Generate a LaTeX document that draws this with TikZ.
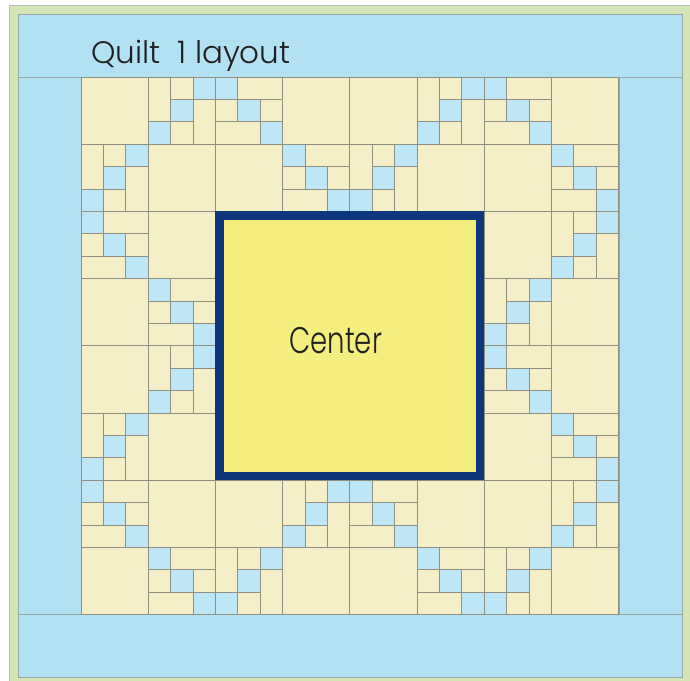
\documentclass[tikz,border=0pt]{standalone}
\usepackage{fontspec}
\newfontfamily\quiltfont{Poppins}[UprightFont=* Light]
\definecolor{edgegreen}{HTML}{D3E5B5}
\definecolor{borderblue}{HTML}{B2E1F4}
\definecolor{patchblue}{HTML}{BDE6F7}
\definecolor{patchyellow}{HTML}{F4EFC7}
\definecolor{centeryellow}{HTML}{F3EE7E}
\definecolor{centernavy}{HTML}{0D377A}
\definecolor{seamgray}{HTML}{8F8F82}

\begin{document}
\begin{tikzpicture}[
  x=1pt, y=-1pt,
  seam/.style={draw=seamgray, line width=0.7pt},
  pale/.style={seam, fill=patchyellow},
  bluepatch/.style={seam, fill=patchblue},
  strip/.style={fill=borderblue, draw=seamgray!70!borderblue, line width=0.7pt},
  quilttext/.style={inner sep=0pt, text=black!88},
  blocka/.pic={
    \draw[pale] (0,0) rectangle (1,2);
    \draw[pale] (1,0) rectangle (2,1);
    \draw[bluepatch] (2,0) rectangle (3,1);
    \draw[bluepatch] (1,1) rectangle (2,2);
    \draw[pale] (2,1) rectangle (3,3);
    \draw[bluepatch] (0,2) rectangle (1,3);
    \draw[pale] (1,2) rectangle (2,3);
  },
  blockb/.pic={
    \draw[bluepatch] (0,0) rectangle (1,1);
    \draw[pale] (1,0) rectangle (3,1);
    \draw[pale] (0,1) rectangle (1,2);
    \draw[bluepatch] (1,1) rectangle (2,2);
    \draw[pale] (2,1) rectangle (3,2);
    \draw[pale] (0,2) rectangle (2,3);
    \draw[bluepatch] (2,2) rectangle (3,3);
  }
]
\useasboundingbox (0,0) rectangle (690,680);

% outer binding and borders
\draw[fill=edgegreen, draw=seamgray!60, line width=0.7pt] (9,5) rectangle (700,690);
\draw[strip] (18,14) rectangle (682,77);
\draw[strip] (18,614) rectangle (682,677);
\draw[strip] (18,77) rectangle (81,614);
\draw[strip] (619,77) rectangle (682,614);

\begin{scope}[shift={(81,77)}, x=22.4pt, y=-22.4pt]
  % plain squares first, pieced blocks on top
  \foreach \c in {0,...,7}
    \foreach \r in {0,...,7}
      \draw[pale] (3*\c,3*\r) rectangle ++(3,3);
  \foreach \c/\r in {1/0,5/0,0/1,4/1,7/2,6/3,1/4,0/5,3/6,7/6,2/7,6/7}
    \pic at (3*\c,3*\r) {blocka};
  \foreach \c/\r in {2/0,6/0,3/1,7/1,0/2,1/3,6/4,7/5,0/6,4/6,1/7,5/7}
    \pic at (3*\c,3*\r) {blockb};
  % center panel
  \fill[centernavy] (6,6) rectangle (18,18);
  \fill[centeryellow] (6.38,6.38) rectangle (17.62,17.62);
\end{scope}

\node[quilttext, anchor=base west] (title) at (91,63.3)
  {\quiltfont\fontsize{31pt}{31pt}\selectfont Quilt\ \ 1 layout};
\node[quilttext, anchor=base west] (centerlabel) at (289,353.3)
  {\scalebox{0.745}[1]{\quiltfont\fontsize{37pt}{37pt}\selectfont Center}};
\end{tikzpicture}
\end{document}
